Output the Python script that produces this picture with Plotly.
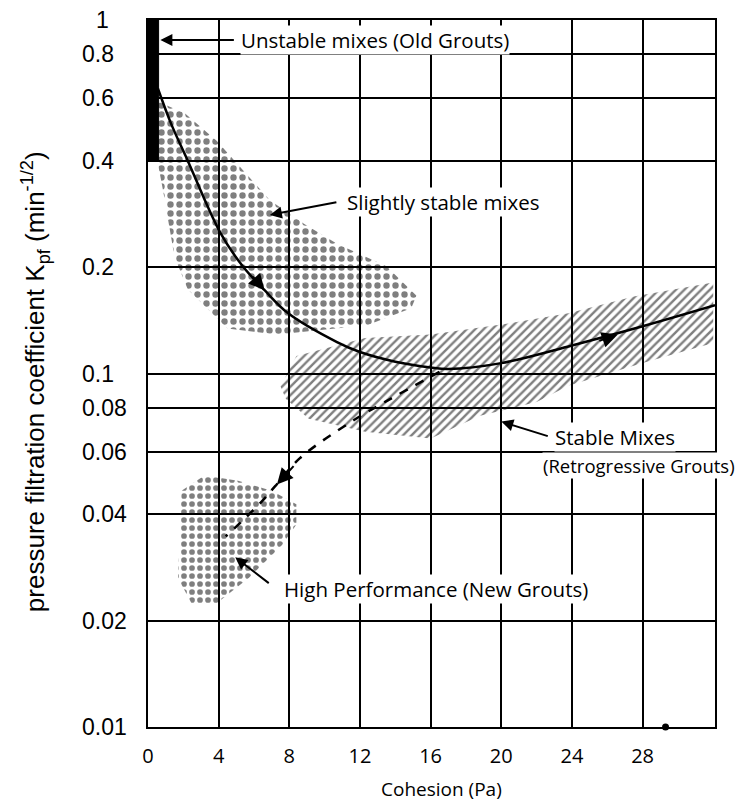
import numpy as np
import plotly.graph_objects as go

# main trend curve (solid) and high-performance branch (dashed)
solid_x = [0.56, 1.3, 2.25, 4.1, 5.4, 6.6, 7.9, 10.7, 12.0, 14.0, 16.0, 17.0, 20.0, 24.0, 28.0, 32.1]
solid_y = [0.64, 0.51, 0.4, 0.25, 0.2, 0.172, 0.1485, 0.1227, 0.115, 0.108, 0.104, 0.103, 0.107, 0.12, 0.136, 0.156]

dash_x = [16.5, 13.4, 11.5, 8.6, 7.2, 6.3, 4.4]
dash_y = [0.101, 0.083, 0.073, 0.0576, 0.048, 0.0427, 0.0346]

# stippled regions (outlines)
slight_x = [0.56, 2.1, 3.9, 5.1, 6.9, 8.85, 10.7, 13.5, 15.2, 14.9, 12.4, 7.3, 4.5, 2.25, 1.5, 0.85, 0.3]
slight_y = [0.588, 0.544, 0.455, 0.39, 0.309, 0.265, 0.233, 0.201, 0.166, 0.153, 0.137, 0.129, 0.134, 0.173, 0.214, 0.33, 0.46]

stable_x = [7.5, 8.4, 12.3, 16.0, 20.0, 23.8, 27.5, 32.0, 32.0, 28.0, 23.8, 22.0, 18.8, 16.0, 12.3, 9.1, 7.8]
stable_y = [0.092, 0.112, 0.126, 0.129, 0.1375, 0.148, 0.165, 0.181, 0.122, 0.107, 0.0924, 0.083, 0.076, 0.0655, 0.0684, 0.0745, 0.0848]

hp_x = [1.9, 3.2, 5.1, 7.0, 8.4, 8.4, 7.6, 5.7, 3.8, 2.5, 1.7, 1.8]
hp_y = [0.0466, 0.0515, 0.0497, 0.0466, 0.0427, 0.0374, 0.0328, 0.0264, 0.0222, 0.0222, 0.0264, 0.0366]

unstable_x = [0.0, 0.6, 0.6, 0.0]
unstable_y = [0.4, 0.4, 1.0, 1.0]

y_ticks = [0.01, 0.02, 0.04, 0.06, 0.08, 0.1, 0.2, 0.4, 0.6, 0.8, 1]
y_labels = ["0.01", "0.02", "0.04", "0.06", "0.08", "0.1", "0.2", "0.4", "0.6", "0.8", "1"]
x_ticks = [0, 4, 8, 12, 16, 20, 24, 28]

FONT = "Liberation Sans"
LABEL_FONT = "Open Sans"

fig = go.Figure()

def region(xs, ys, shape, size, solidity):
    fig.add_trace(go.Scatter(
        x=xs + xs[:1], y=ys + ys[:1], mode="lines", fill="toself",
        line=dict(width=0), fillcolor="rgba(0,0,0,0)",
        fillpattern=dict(shape=shape, fgcolor="black", bgcolor="rgba(0,0,0,0)",
                         size=size, solidity=solidity),
        hoverinfo="skip", showlegend=False))

region(slight_x, slight_y, ".", 9, 0.4)
region(stable_x, stable_y, "/", 6, 0.4)
region(hp_x, hp_y, ".", 8, 0.4)

fig.add_trace(go.Scatter(x=unstable_x, y=unstable_y, mode="lines", fill="toself",
                         fillcolor="black", line=dict(color="black", width=1),
                         showlegend=False))

fig.add_trace(go.Scatter(x=solid_x, y=solid_y, mode="lines",
                         line=dict(color="black", width=2.5, shape="spline"),
                         showlegend=False))
fig.add_trace(go.Scatter(x=dash_x, y=dash_y, mode="lines",
                         line=dict(color="black", width=2.5, dash="dash", shape="spline"),
                         showlegend=False))
fig.add_trace(go.Scatter(x=[29.3], y=[0.01], mode="markers",
                         marker=dict(color="black", size=7), showlegend=False,
                         cliponaxis=False))

def text(x, y, s, size=20.5):
    fig.add_annotation(x=x, y=np.log10(y), text=s, showarrow=False,
                       xanchor="left", yanchor="middle", bgcolor="white", borderpad=0,
                       font=dict(size=size, family=LABEL_FONT, color="black"))

def arrow(x, y, ax, ay, size=1.2):
    fig.add_annotation(x=x, y=np.log10(y), text="", showarrow=True, ax=ax, ay=ay,
                       arrowhead=2, arrowsize=size, arrowwidth=2, arrowcolor="black")

text(5.2, 0.878, "Unstable mixes (Old Grouts)")
arrow(0.7, 0.878, 75, 0)
text(11.2, 0.306, "Slightly stable mixes")
arrow(6.9, 0.281, 68, -13)
text(23.0, 0.0661, "Stable Mixes")
text(22.3, 0.0551, "(Retrogressive Grouts)", 18.5)
arrow(20.0, 0.0731, 48, 15)
text(7.66, 0.0245, "High Performance (New Grouts)")
arrow(4.94, 0.0302, 35, 27)

# direction arrows on the curves
arrow(6.6, 0.172, -13, -15, 1.6)
arrow(26.6, 0.129, -20, 7, 1.6)
arrow(7.3, 0.0485, 18, -20, 1.6)

# y tick labels drawn left-aligned as in the original figure
for v, s in zip(y_ticks, y_labels):
    fig.add_annotation(x=-0.065 if s == "1" else -0.12, xref="paper", y=np.log10(v), yref="y",
                       text=s, showarrow=False, xanchor="right" if s == "1" else "left",
                       yanchor="middle", font=dict(size=23, family=FONT, color="black"))

fig.add_annotation(x=-0.199, xref="paper", y=0.488, yref="paper", textangle=-90,
                   text="pressure filtration coefficient K<sub>pf</sub> (min<sup>-1/2</sup>)",
                   showarrow=False, xanchor="center", yanchor="middle",
                   font=dict(size=26, family=FONT, color="black"))
fig.add_annotation(x=0.517, xref="paper", y=-0.088, yref="paper", text="Cohesion (Pa)",
                   showarrow=False, xanchor="center", yanchor="middle",
                   font=dict(size=19, family=LABEL_FONT, color="black"))

fig.update_layout(
    width=738, height=797,
    margin=dict(l=140, r=31, t=12, b=78),
    paper_bgcolor="white", plot_bgcolor="white",
    font=dict(family=FONT, color="black"),
    xaxis=dict(range=[0, 32.1], tickvals=x_ticks, showgrid=True, gridcolor="black",
               gridwidth=1.5, showline=True, linecolor="black", linewidth=2, mirror=True,
               zeroline=False, ticks="", ticklabelstandoff=10, automargin=False,
               tickfont=dict(size=20, family=LABEL_FONT)),
    yaxis=dict(type="log", range=[-2, 0], tickvals=y_ticks, showticklabels=False,
               showgrid=True, gridcolor="black", gridwidth=1.5, showline=True,
               linecolor="black", linewidth=2, mirror=True, zeroline=False, ticks="",
               automargin=False),
)

fig.write_html("out.html")
